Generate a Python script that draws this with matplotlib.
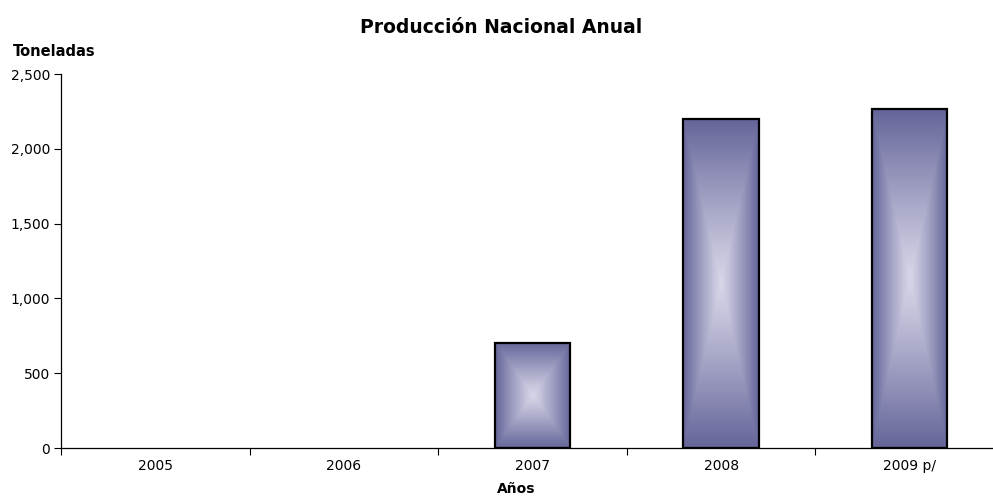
import matplotlib.pyplot as plt
import numpy as np
from matplotlib.colors import LinearSegmentedColormap
from matplotlib.ticker import FuncFormatter

# Daten
anios = ['2005', '2006', '2007', '2008', '2009 p/']
toneladas = [0, 0, 705, 2200, 2265]

DARK = '#65659a'
LIGHT = '#d6d6e8'
cmap = LinearSegmentedColormap.from_list('grad', [LIGHT, DARK])

fig = plt.figure(figsize=(9.93, 4.96), dpi=100)
ax = fig.add_axes([61 / 993, 48 / 496, (1004 - 61) / 993, (448 - 74) / 496])

x = np.arange(len(anios))
bars = ax.bar(x, toneladas, width=0.4, facecolor='none', edgecolor='black',
              linewidth=1.6, zorder=3)

# Verlauf "vom Zentrum" in jedem Balken
u = np.linspace(-1, 1, 200)
U, V = np.meshgrid(u, u)
grad = np.maximum(np.abs(U), np.abs(V)) ** 1.1
for rect in bars:
    h = rect.get_height()
    if h <= 0:
        rect.set_visible(False)
        continue
    x0 = rect.get_x()
    ax.imshow(grad, cmap=cmap, extent=[x0, x0 + rect.get_width(), 0, h],
              aspect='auto', zorder=2, interpolation='bilinear')

ax.set_xlim(-0.5, len(anios) - 0.5)
ax.set_ylim(0, 2500)
ax.set_yticks(np.arange(0, 2501, 500))
ax.yaxis.set_major_formatter(FuncFormatter(lambda v, p: f'{int(v):,}'))

ax.set_xticks(np.arange(-0.5, len(anios), 1.0))
ax.set_xticklabels([])
ax.set_xticks(x, minor=True)
ax.set_xticklabels(anios, minor=True)
ax.tick_params(axis='x', which='minor', length=0, pad=8, labelsize=10)
ax.tick_params(axis='x', which='major', length=5, width=0.8)
ax.tick_params(axis='y', length=5, width=0.8, labelsize=10, pad=3)

for s in ['top', 'right']:
    ax.spines[s].set_visible(False)
for s in ['left', 'bottom']:
    ax.spines[s].set_linewidth(0.9)

fig.text(0.505, 0.945, 'Producción Nacional Anual', ha='center', va='center',
         fontsize=13.5, fontweight='bold')
fig.text(13 / 993, 1 - 52 / 496, 'Toneladas', ha='left', va='center',
         fontsize=10.5, fontweight='bold')
fig.text(516 / 993, 1 - 489 / 496, 'Años', ha='center', va='center',
         fontsize=10, fontweight='bold')

fig.savefig('out.png', dpi=100)
